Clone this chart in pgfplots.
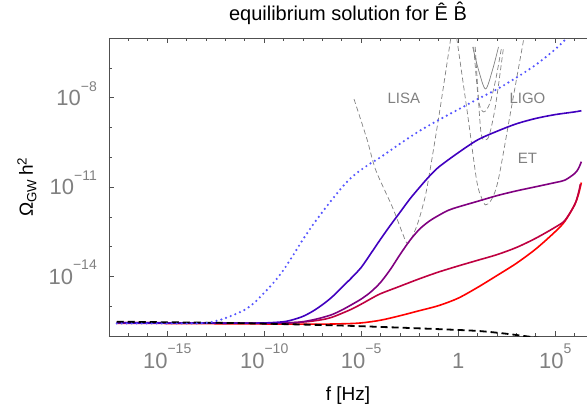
\documentclass[border=0pt]{standalone}
\usepackage{fontspec}
\setmainfont{Liberation Sans}
\usepackage{pgfplots}
\pgfplotsset{compat=1.18}

\definecolor{cA}{RGB}{64,0,191}
\definecolor{cB}{RGB}{128,0,128}
\definecolor{cC}{RGB}{191,0,64}
\definecolor{cD}{RGB}{255,0,0}
\definecolor{cdot}{RGB}{85,85,255}
\definecolor{sens}{RGB}{128,128,128}
\definecolor{frame}{RGB}{80,80,80}

% tick label 10^n in the text font
\newcommand{\tp}[1]{10\raisebox{14.5pt}{\fontsize{14}{14}\selectfont#1}}

\begin{document}
\begin{tikzpicture}
\useasboundingbox (-109pt,-69pt) rectangle (478pt,336pt);
\begin{axis}[
  scale only axis, width=478pt, height=298pt,
  xmode=log, ymode=log,
  xmin=1e-18, xmax=4.37e6, ymin=1e-16, ymax=1e-6,
  axis x line*=box, axis y line*=left,
  axis line style={draw=frame, line width=0.8pt, -},
  tick align=inside,
  tick style={draw=frame, line width=0.6pt},
  major tick length=5pt, minor tick length=3pt,
  xtick={1e-15,1e-10,1e-5,1,1e5},
  xticklabels={\tp{−15},\tp{−10},\tp{−5},1,\tp{5}},
  minor xtick={1e-18,1e-17,1e-16,1e-14,1e-13,1e-12,1e-11,1e-9,1e-8,1e-7,1e-6,1e-4,1e-3,1e-2,1e-1,1e1,1e2,1e3,1e4,1e6},
  ytick={1e-14,1e-11,1e-8},
  yticklabels={\tp{−14},\tp{−11},\tp{−8}},
  minor ytick={1e-16,1e-15,1e-13,1e-12,1e-10,1e-9,1e-7,1e-6},
  ticklabel style={font=\fontsize{22}{24}\selectfont, text=black!50},
  xticklabel style={anchor=base, inner sep=0pt, yshift=-32pt},
  yticklabel style={anchor=base east, inner sep=0pt, xshift=-12pt, yshift=-7.9pt},
  title={equilibrium solution for Ê B̂},
  title style={at={(axis description cs:0.5,1.040)}, anchor=base, font=\fontsize{20}{24}\selectfont},
  xlabel={f [Hz]},
  xlabel style={at={(axis description cs:0.5,-0.218)}, anchor=base, font=\fontsize{19}{22}\selectfont},
  ylabel={Ω\textsubscript{GW}\,h\textsuperscript{2}},
  ylabel style={at={(axis description cs:-0.159,0.5)}, anchor=base, font=\fontsize{19}{22}\selectfont},
]
% sensitivity curves
% LISA
\addplot[sens, line width=0.7pt, dash pattern=on 5pt off 3pt, smooth] coordinates {
  (4.27e-6,8.91e-9) (2.00e-5,3.98e-10) (5.62e-5,3.72e-11) (3.98e-4,2.19e-12)
  (1.26e-3,3.16e-13) (2.34e-3,1.29e-13) (4.07e-3,2.00e-13) (7.94e-3,5.62e-13)
  (1.41e-2,2.00e-12) (2.51e-2,1e-11) (0.1,2.24e-9) (0.417,1e-6)
};
% ET
\addplot[sens, line width=0.7pt, dash pattern=on 5pt off 3pt, smooth] coordinates {
  (0.841,1e-6) (3.09,2.63e-9) (8.91,1.70e-11) (16.2,4.27e-12) (25.7,2.51e-12)
  (46.8,3.39e-12) (85.1,7.94e-12) (148,3.72e-11) (525,3.80e-9) (2344,8.51e-7)
};
% LIGO
\addplot[sens, line width=0.7pt, smooth] coordinates {
  (5.62,5.01e-7) (11.2,8.51e-8) (25.7,1.95e-8) (58.9,8.51e-8) (120,5.01e-7)
};
\addplot[sens, line width=0.7pt, dash pattern=on 5pt off 3pt, smooth] coordinates {
  (6.31,5.01e-7) (11.2,8.32e-9) (20.4,3.31e-9) (41.7,6.17e-9) (85.1,3.89e-8) (174,5.01e-7)
};
\addplot[sens, line width=0.7pt, dash pattern=on 5pt off 3pt, smooth] coordinates {
  (7.59,5.01e-7) (14.5,8.13e-10) (25.7,3.80e-10) (41.7,6.03e-10) (85.1,5.62e-9) (219,5.01e-7)
};
\node[text=sens, font=\fontsize{15}{18}\selectfont] at (axis cs:1.58e-3,9.77e-9) {LISA};
\node[text=sens, font=\fontsize{15}{18}\selectfont] at (axis cs:3.72e3,9.77e-9) {LIGO};
\node[text=sens, font=\fontsize{15}{18}\selectfont] at (axis cs:3.72e3,9.3e-11) {ET};

% red
\addplot[cD, line width=1.6pt, smooth] coordinates {
  (2.51e-18,2.69e-16) (1e-8,2.51e-16) (1e-6,2.57e-16) (1e-5,2.75e-16) (1e-4,3.39e-16)
  (1e-3,4.79e-16) (1e-2,7.08e-16) (1e-1,1.05e-15) (1,1.86e-15) (10,4.27e-15)
  (100,1.07e-14) (1e3,2.75e-14) (1e4,8.32e-14) (1e5,3.16e-13) (3.16e5,7.08e-13)
  (1e6,2.51e-12) (1.585e6,5.62e-12) (2.24e6,1.41e-11)
};
% crimson
\addplot[cC, line width=1.6pt, smooth] coordinates {
  (2.51e-18,2.82e-16) (1e-10,2.69e-16) (1e-8,2.95e-16) (1e-7,3.55e-16) (3.16e-7,4.27e-16)
  (1e-6,5.75e-16) (3.16e-6,7.94e-16) (1e-5,1.17e-15) (3.16e-5,1.78e-15) (1e-4,2.63e-15)
  (1e-3,4.68e-15) (1e-2,8.32e-15) (1e-1,1.41e-14) (1,2.24e-14) (10,3.47e-14)
  (100,5.37e-14) (1e3,9.33e-14) (1e4,1.91e-13) (1e5,4.47e-13) (3.16e5,7.59e-13)
  (1e6,2.51e-12) (1.585e6,6.31e-12) (1.995e6,1.26e-11)
};
% purple
\addplot[cB, line width=1.6pt, smooth] coordinates {
  (2.51e-18,2.82e-16) (1e-10,2.69e-16) (3.16e-9,2.82e-16) (1e-8,3.02e-16) (3.16e-8,3.47e-16)
  (1e-7,4.17e-16) (3.16e-7,5.25e-16) (1e-6,7.41e-16) (3.16e-6,1.12e-15) (1e-5,1.74e-15)
  (3.16e-5,3.02e-15) (1e-4,6.31e-15) (3.16e-4,1.70e-14) (1e-3,5.37e-14) (3.16e-3,1.58e-13)
  (1e-2,3.80e-13) (3.16e-2,7.08e-13) (1e-1,1.12e-12) (3.16e-1,1.66e-12) (1,2.14e-12)
  (10,3.31e-12) (100,5.13e-12) (1e3,7.41e-12) (1e4,1.02e-11) (1e5,1.41e-11)
  (3.16e5,1.70e-11) (1e6,2.82e-11) (1.585e6,4.17e-11) (2.24e6,7.08e-11)
};
% blue
\addplot[cA, line width=1.6pt, smooth] coordinates {
  (2.51e-18,2.75e-16) (1e-12,2.69e-16) (1e-10,2.75e-16) (1e-9,3.02e-16) (3.16e-9,3.55e-16)
  (1e-8,4.57e-16) (3.16e-8,6.76e-16) (1e-7,1.12e-15) (3.16e-7,2.04e-15) (1e-6,4.27e-15)
  (3.16e-6,8.91e-15) (1e-5,2.00e-14) (3.16e-5,5.89e-14) (1e-4,1.78e-13) (3.16e-4,5.13e-13)
  (1e-3,1.41e-12) (3.16e-3,3.89e-12) (1e-2,9.55e-12) (3.16e-2,2.24e-11) (1e-1,4.68e-11)
  (1,1.41e-10) (10,3.80e-10) (100,7.41e-10) (1e3,1.32e-9) (1e4,2.00e-9)
  (1e5,2.69e-9) (1e6,3.31e-9) (2.24e6,3.63e-9)
};
% black dashed
\addplot[black, line width=1.8pt, dash pattern=on 7pt off 4pt, smooth] coordinates {
  (2.51e-18,3.02e-16) (1e-12,2.75e-16) (1e-9,2.51e-16) (1e-6,2.24e-16) (1e-3,1.91e-16)
  (1e-1,1.70e-16) (10,1.48e-16) (275,1.20e-16) (1e4,8.91e-17) (1e5,7.59e-17)
};
% blue dotted
\addplot[cdot, line width=2.4pt, line cap=round, dash pattern=on 0pt off 5pt, smooth] coordinates {
  (2.51e-18,2.63e-16) (1e-14,2.63e-16) (1e-13,2.75e-16) (3.16e-13,3.16e-16) (1e-12,3.98e-16)
  (3.16e-12,5.37e-16) (1e-11,7.59e-16) (3.16e-11,1.32e-15) (1e-10,2.82e-15) (3.16e-10,6.31e-15)
  (1e-9,1.66e-14) (3.16e-9,5.25e-14) (1e-8,1.74e-13) (3.16e-8,5.25e-13) (1e-7,1.45e-12)
  (3.16e-7,3.80e-12) (1e-6,9.55e-12) (3.16e-6,2.09e-11) (1e-5,3.80e-11) (3.16e-5,6.31e-11)
  (1e-4,1.00e-10) (1e-3,2.82e-10) (1e-2,7.59e-10) (1e-1,1.78e-9) (1,3.98e-9)
  (10,8.91e-9) (100,1.91e-8) (1e3,4.68e-8) (1e4,1.26e-7) (1e5,4.17e-7)
  (3.98e5,1e-6) (1e6,2.0e-6)
};
\end{axis}
\end{tikzpicture}
\end{document}
